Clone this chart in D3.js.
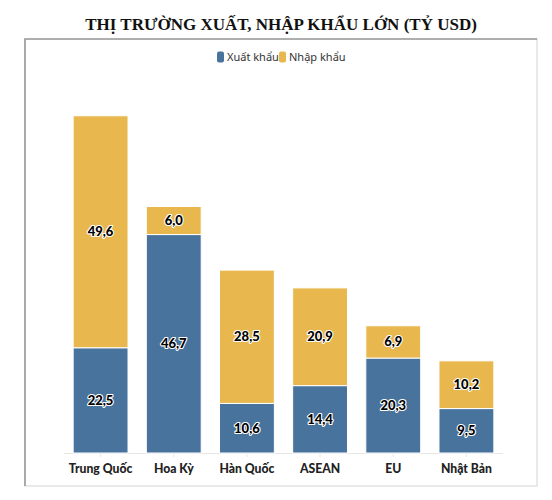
<!DOCTYPE html>
<html>
<head>
<meta charset="utf-8">
<script src="https://cdn.jsdelivr.net/npm/d3@7"></script>
<style>
  html, body { margin: 0; padding: 0; background: #ffffff; }
  svg { display: block; }
</style>
</head>
<body>
<svg id="chart" width="552" height="500"></svg>
<script>
const title = "THỊ TRƯỜNG XUẤT, NHẬP KHẨU LỚN (TỶ USD)";
const categories = ["Trung Quốc", "Hoa Kỳ", "Hàn Quốc", "ASEAN", "EU", "Nhật Bản"];
const seriesNames = ["Xuất khẩu", "Nhập khẩu"];
const exportValues = [22.5, 46.7, 10.6, 14.4, 20.3, 9.5];
const importValues = [49.6, 6.0, 28.5, 20.9, 6.9, 10.2];
const seriesColors = ["#48739d", "#e8b84f"];

const svg = d3.select("#chart");

const rows = categories.map((c, i) => ({cat: c, "Xuất khẩu": exportValues[i], "Nhập khẩu": importValues[i]}));
const stack = d3.stack().keys(seriesNames)(rows);

// frame
const fx0 = 25, fy0 = 39, fx1 = 537, fy1 = 486;
svg.append("rect").attr("x", fx0).attr("y", fy0).attr("width", fx1 - fx0).attr("height", fy1 - fy0)
  .attr("fill", "#fff").attr("stroke", "#e2e2e2").attr("stroke-width", 1.5);
svg.append("path").attr("d", `M${fx0},${fy1} L${fx0},${fy0} L${fx1},${fy0}`)
  .attr("fill", "none").attr("stroke", "#9a9a9a").attr("stroke-width", 1.6);

// title
svg.append("text").attr("x", (fx0 + fx1) / 2).attr("y", 30)
  .attr("text-anchor", "middle")
  .attr("font-family", "'Liberation Serif', 'DejaVu Serif', serif")
  .attr("font-weight", "bold").attr("font-size", 17).attr("fill", "#111")
  .text(title);

// scales
const x = d3.scaleBand().domain(categories).range([64, 503]).paddingInner(0.25).paddingOuter(0.125);
const y = d3.scaleLinear().domain([0, 80]).range([453, 78.8]);
const color = d3.scaleOrdinal().domain(seriesNames).range(seriesColors);

// legend
const legend = svg.append("g").attr("font-family", "'Noto Sans', 'Open Sans', sans-serif").attr("font-size", 11);
const legendItems = [{name: seriesNames[0], x: 217}, {name: seriesNames[1], x: 279}];
legendItems.forEach(it => {
  legend.append("rect").attr("x", it.x).attr("y", 51.5).attr("width", 7).attr("height", 11).attr("rx", 2)
    .attr("fill", color(it.name));
  legend.append("text").attr("x", it.x + 10).attr("y", 61).attr("fill", "#333").text(it.name);
});

// axis
const xAxis = d3.axisBottom(x).tickSize(4).tickPadding(7);
const ax = svg.append("g").attr("transform", "translate(0,453)").call(xAxis);
ax.select(".domain").attr("stroke", "#e6e6e6").attr("d", "M64,0.5H503");
ax.selectAll(".tick line").attr("stroke", "#e6e6e6");
ax.selectAll(".tick text").attr("font-family", "Lato, 'Noto Sans', sans-serif")
  .attr("font-weight", 900).attr("font-size", 12.2).attr("fill", "#222").attr("dy", "0.71em");

// bars
const groups = svg.append("g").selectAll("g").data(stack).join("g").attr("fill", d => color(d.key));
groups.selectAll("rect").data(d => d).join("rect")
  .attr("x", d => x(d.data.cat))
  .attr("width", x.bandwidth())
  .attr("y", d => y(d[1]))
  .attr("height", d => y(d[0]) - y(d[1]))
  .attr("stroke", "#fff").attr("stroke-width", 1);

// labels
const fmt = v => v.toFixed(1).replace(".", ",");
const labels = svg.append("g").attr("font-family", "Lato, 'Noto Sans', sans-serif")
  .attr("font-weight", 900).attr("font-size", 13).attr("text-anchor", "middle");
stack.forEach(s => {
  s.forEach(d => {
    const cx = x(d.data.cat) + x.bandwidth() / 2;
    const cy = (y(d[0]) + y(d[1])) / 2;
    labels.append("text").attr("x", cx).attr("y", cy).attr("dy", "0.35em")
      .attr("fill", "#000").attr("stroke", "#fff").attr("stroke-width", 2.2)
      .attr("stroke-linejoin", "round").attr("paint-order", "stroke")
      .text(fmt(d[1] - d[0]));
  });
});
</script>
</body>
</html>
